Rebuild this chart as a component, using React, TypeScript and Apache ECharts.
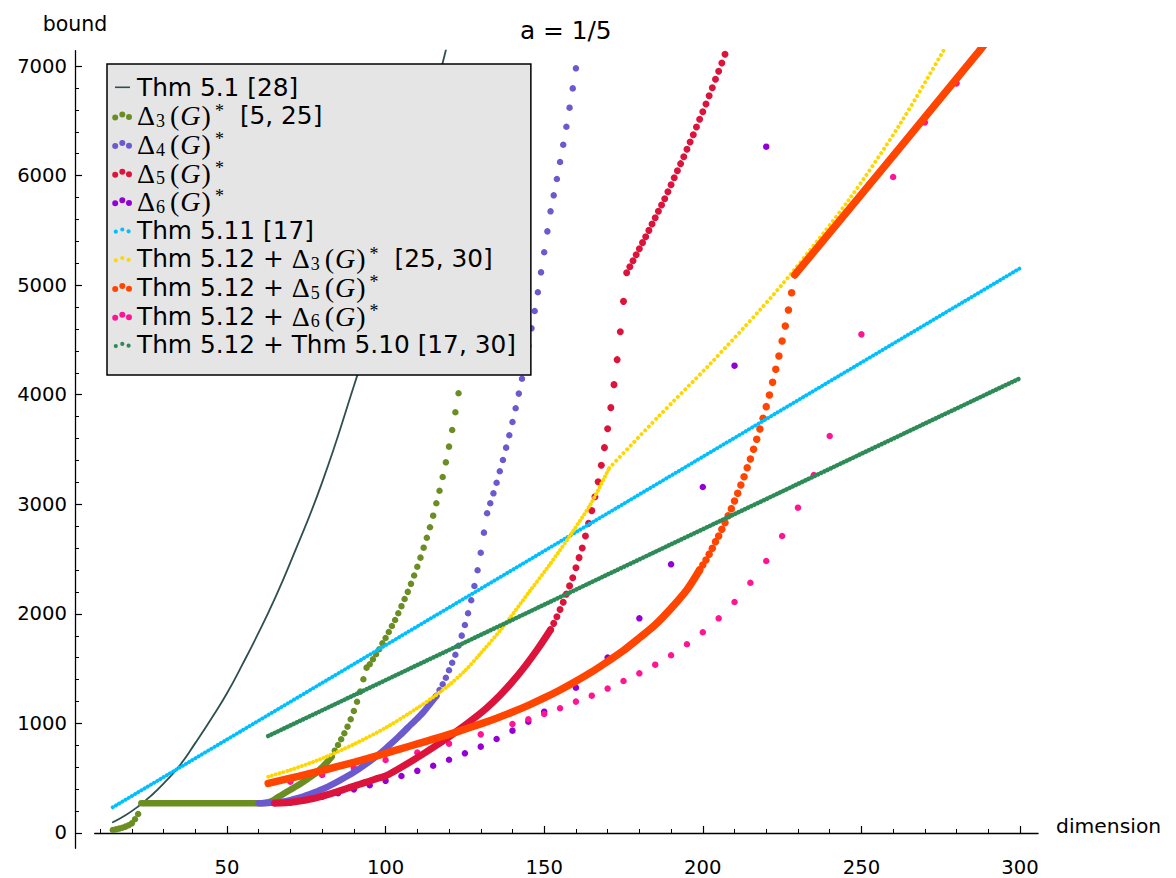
import React, { useEffect, useRef } from "react";
import * as echarts from "echarts";

// ---- axis ticks ----
const xMajorTicks = [50, 100, 150, 200, 250, 300];
const xMinorTicks = [10, 20, 30, 40, 50, 60, 70, 80, 90, 100, 110, 120, 130, 140, 150, 160, 170, 180, 190, 200, 210, 220, 230, 240, 250, 260, 270, 280, 290, 300];
const yMajorTicks = [0, 1000, 2000, 3000, 4000, 5000, 6000, 7000];
const yMinorTicks = [0, 200, 400, 600, 800, 1000, 1200, 1400, 1600, 1800, 2000, 2200, 2400, 2600, 2800, 3000, 3200, 3400, 3600, 3800, 4000, 4200, 4400, 4600, 4800, 5000, 5200, 5400, 5600, 5800, 6000, 6200, 6400, 6600, 6800, 7000];

// ---- series names ----
const N1 = "Thm 5.1 [28]";
const N2 = "Δ3(G)* [5, 25]";
const N3 = "Δ4(G)*";
const N4 = "Δ5(G)*";
const N5 = "Δ6(G)*";
const N6 = "Thm 5.11 [17]";
const N7 = "Thm 5.12 + Δ3(G)* [25, 30]";
const N8 = "Thm 5.12 + Δ5(G)*";
const N9 = "Thm 5.12 + Δ6(G)*";
const N10 = "Thm 5.12 + Thm 5.10 [17, 30]";

// ---- Thm 5.1 ----
const thm51X = [14, 18, 22, 26, 30, 35, 40, 45, 50, 55, 60, 65, 70, 80, 90, 100, 110, 118, 120];
const thm51Y = [98, 162, 242, 338, 450, 612, 820, 1040, 1275, 1545, 1830, 2135, 2470, 3200, 4080, 5000, 6080, 7030, 7260];

// ---- Delta3 ----
const d3LowX = [14, 15, 16, 17, 18, 19, 20, 21, 22];
const d3LowY = [27, 33, 40, 48, 58, 70, 88, 125, 173];
const d3BandX = [23, 60, 62, 64, 66, 68, 70, 72, 74, 76, 78, 80, 82, 83];
const d3BandY = [271, 271, 276, 290, 325, 360, 395, 428, 465, 505, 545, 600, 660, 697];
const d3DotX = [83, 84, 85, 86, 87, 88, 89, 90, 91, 92, 93, 94, 95, 96, 97, 98, 99, 100, 101, 102, 103, 104, 105, 106, 107, 108, 109, 110, 111, 112, 113, 114, 115, 116, 117, 118, 119, 120, 121, 122, 123];
const d3DotY = [697, 751, 803, 855, 910, 970, 1038, 1113, 1198, 1290, 1403, 1509, 1540, 1585, 1631, 1677, 1731, 1780, 1834, 1889, 1944, 2005, 2070, 2135, 2201, 2274, 2350, 2430, 2513, 2604, 2695, 2790, 2896, 3009, 3124, 3249, 3383, 3526, 3678, 3840, 4013];

// ---- Delta4 ----
const d4BandX = [60, 62, 64, 66, 68, 70, 72, 74, 76, 78, 80, 82, 84, 86, 88, 90, 92, 94, 96, 98, 100, 102, 104, 106, 108, 110, 112, 114, 116];
const d4BandY = [271, 272, 275, 280, 288, 300, 315, 333, 353, 375, 398, 425, 455, 487, 520, 555, 592, 632, 675, 720, 770, 822, 876, 932, 990, 1045, 1105, 1178, 1250];
const d4DotX = [116, 117, 118, 119, 120, 121, 122, 123, 124, 125, 126, 127, 128, 129, 130, 131, 132, 133, 134, 135, 136, 137, 138, 139, 140, 141, 142, 143, 144, 145, 146, 147, 148, 149, 150, 151, 152, 153, 154, 155, 156, 157, 158, 159, 160];
const d4DotY = [1250, 1305, 1357, 1417, 1485, 1554, 1627, 1709, 1801, 1898, 2005, 2124, 2254, 2398, 2558, 2741, 2918, 3009, 3100, 3197, 3301, 3404, 3517, 3630, 3751, 3876, 4010, 4146, 4290, 4445, 4606, 4764, 4935, 5117, 5300, 5491, 5674, 5820, 5969, 6124, 6282, 6446, 6620, 6796, 6979];

// ---- Delta5 ----
const d5BandX = [65, 67, 70, 73, 76, 79, 82, 85, 88, 91, 94, 97, 100, 104, 108, 112, 116, 120, 124, 128, 132, 136, 140, 144, 148, 152];
const d5BandY = [271, 273, 280, 292, 308, 328, 352, 380, 408, 437, 464, 493, 520, 584, 652, 724, 799, 878, 961, 1049, 1145, 1255, 1381, 1523, 1681, 1855];
const d5DotX = [152, 153, 154, 155, 156, 157, 158, 159, 160, 161, 162, 163, 164, 165, 166, 167, 168, 169, 170, 171, 172, 173, 174, 175, 176, 177, 178, 179, 180, 181, 182, 183, 184, 185, 186, 187, 188, 189, 190, 191, 192, 193, 194, 195, 196, 197, 198, 199, 200, 201, 202, 203, 204, 205, 206, 207];
const d5DotY = [1855, 1913, 1974, 2040, 2105, 2180, 2255, 2330, 2421, 2513, 2601, 2711, 2826, 2942, 3069, 3206, 3356, 3517, 3690, 3882, 4092, 4320, 4575, 4852, 5114, 5168, 5223, 5278, 5333, 5388, 5442, 5500, 5558, 5616, 5674, 5731, 5789, 5853, 5917, 5981, 6045, 6109, 6172, 6240, 6306, 6373, 6443, 6514, 6583, 6653, 6729, 6802, 6879, 6952, 7028, 7107];

// ---- Delta6 ----
const d6X = [70, 75, 80, 85, 90, 95, 100, 105, 110, 115, 120, 125, 130, 135, 140, 145, 150, 160, 170, 180, 190, 200, 210, 220];
const d6Y = [277, 301, 331, 362, 398, 435, 476, 520, 567, 614, 668, 727, 788, 858, 934, 1016, 1107, 1326, 1602, 1959, 2452, 3158, 4265, 6264];

// ---- Thm 5.11 ----
const thm511X = [14, 300];
const thm511Y = [234, 5154];

// ---- Thm 5.12 + Delta3 (below and above the bend at 170.5) ----
const t512d3LowX = [63, 70, 80, 90, 100, 110, 115, 120, 125, 130, 137, 145, 152, 159, 165, 170.5];
const t512d3LowY = [514, 575, 680, 810, 960, 1140, 1240, 1350, 1480, 1640, 1880, 2190, 2460, 2750, 3020, 3330];
const t512d3HighX = [170.5, 186, 202, 218, 228, 246, 262, 276, 277.5];
const t512d3HighY = [3330, 3800, 4271, 4773, 5110, 5777, 6462, 7146, 7230];

// ---- Thm 5.12 + Delta5 ----
const t512d5BandX = [63, 70, 75, 80, 85, 90, 95, 100, 105, 110, 115, 120, 125, 130, 135, 140, 145, 150, 155, 160, 165, 170, 175, 180, 185, 190, 195, 199];
const t512d5BandY = [453, 500, 535, 570, 607, 645, 685, 727, 770, 813, 856, 900, 947, 996, 1048, 1104, 1165, 1232, 1305, 1385, 1470, 1565, 1665, 1780, 1900, 2050, 2220, 2400];
const t512d5DotX = [199, 200, 201, 202, 203, 204, 205, 206, 207, 208, 209, 210, 211, 212, 213, 214, 215, 216, 217, 218, 219, 220, 221, 222, 223, 224, 225, 226, 227, 228];
const t512d5DotY = [2400, 2445, 2492, 2545, 2598, 2659, 2711, 2772, 2832, 2896, 2960, 3030, 3100, 3176, 3252, 3334, 3413, 3502, 3593, 3687, 3785, 3891, 3997, 4113, 4232, 4353, 4490, 4627, 4773, 4931];
const t512d5TopX = [229, 258, 287, 289];
const t512d5TopY = [5093, 6110, 7131, 7205];

// ---- Thm 5.12 + Delta6 ----
const t512d6X = [70, 80, 90, 100, 110, 120, 130, 140, 145, 150, 155, 160, 165, 170, 175, 180, 185, 190, 195, 200, 205, 210, 215, 220, 225, 230, 235, 240, 250, 260, 270, 280];
const t512d6Y = [468, 529, 593, 666, 734, 815, 900, 995, 1038, 1086, 1138, 1199, 1253, 1318, 1387, 1457, 1536, 1622, 1722, 1832, 1959, 2108, 2284, 2482, 2711, 2969, 3267, 3623, 4551, 5987, 6486, 6842];

// ---- Thm 5.12 + Thm 5.10 ----
const t512t510X = [63, 300];
const t512t510Y = [885, 4150];

const C = {
  slate: "#2f4f4f",
  olive: "#6b8e23",
  slateblue: "#6a5acd",
  crimson: "#dc143c",
  violet: "#9400d3",
  sky: "#00bfff",
  gold: "#ffd700",
  orange: "#ff4500",
  pink: "#ff1493",
  green: "#2e8b57",
};

const SANS = "'DejaVu Sans', 'Bitstream Vera Sans', sans-serif";
const SERIF = "'Liberation Serif', 'DejaVu Serif', serif";

const pts = (xs: number[], ys: number[]) => xs.map((x, i) => [x, ys[i]]);

const scatter = (name: string, xs: number[], ys: number[], color: string, size: number) => ({
  name,
  type: "scatter",
  data: pts(xs, ys),
  symbol: "circle",
  symbolSize: size,
  itemStyle: { color, opacity: 1, borderWidth: 0 },
  emphasis: { disabled: true },
  silent: true,
});

const band = (name: string, xs: number[], ys: number[], color: string, width: number, smooth: number | boolean = 0.3) => ({
  name,
  type: "line",
  data: pts(xs, ys),
  symbol: "none",
  smooth,
  color,
  lineStyle: { color, width, cap: "round", join: "round" },
  emphasis: { disabled: true },
  silent: true,
});

const dotted = (name: string, xs: number[], ys: number[], color: string, width: number, step: number, smooth: number | boolean = false) => ({
  name,
  type: "line",
  data: pts(xs, ys),
  symbol: "none",
  smooth,
  color,
  lineStyle: { color, width, type: [0.01, step], cap: "round", join: "round" },
  emphasis: { disabled: true },
  silent: true,
});

const deltaTerm = (k: string) => `{m|Δ}{sub|${k}}{m|(}{it|G}{m|)}{sup|*}`;
const legendLabels: Record<string, string> = {
  [N1]: "Thm 5.1 [28]",
  [N2]: deltaTerm("3") + "{gap|[5, 25]}",
  [N3]: deltaTerm("4"),
  [N4]: deltaTerm("5"),
  [N5]: deltaTerm("6"),
  [N6]: "Thm 5.11 [17]",
  [N7]: "Thm 5.12 + " + deltaTerm("3") + "{gap|[25, 30]}",
  [N8]: "Thm 5.12 + " + deltaTerm("5"),
  [N9]: "Thm 5.12 + " + deltaTerm("6"),
  [N10]: "Thm 5.12 + Thm 5.10 [17, 30]",
};

const BOX = "M0,0M20,10";
const ICON_LINE = "path://" + BOX + "M3,4.2L18,4.2L18,5.8L3,5.8Z";
const circ = (cx: number, cy: number, r: number) =>
  `M${cx - r},${cy}a${r},${r} 0 1,0 ${2 * r},0a${r},${r} 0 1,0 ${-2 * r},0Z`;
const ICON_BIG = "path://" + BOX + circ(3.2, 6.6, 3) + circ(10.3, 3.6, 3) + circ(17, 6.2, 3);
const ICON_SMALL = "path://" + BOX + circ(3.8, 6.4, 2.1) + circ(10.3, 4.2, 2.1) + circ(16.6, 6.0, 2.1);

const legendItems = [
  { name: N1, icon: ICON_LINE, itemStyle: { color: C.slate, borderWidth: 0 } },
  { name: N2, icon: ICON_BIG, itemStyle: { color: C.olive, borderWidth: 0 } },
  { name: N3, icon: ICON_BIG, itemStyle: { color: C.slateblue, borderWidth: 0 } },
  { name: N4, icon: ICON_BIG, itemStyle: { color: C.crimson, borderWidth: 0 } },
  { name: N5, icon: ICON_BIG, itemStyle: { color: C.violet, borderWidth: 0 } },
  { name: N6, icon: ICON_SMALL, itemStyle: { color: C.sky, borderWidth: 0 } },
  { name: N7, icon: ICON_SMALL, itemStyle: { color: C.gold, borderWidth: 0 } },
  { name: N8, icon: ICON_BIG, itemStyle: { color: C.orange, borderWidth: 0 } },
  { name: N9, icon: ICON_BIG, itemStyle: { color: C.pink, borderWidth: 0 } },
  { name: N10, icon: ICON_SMALL, itemStyle: { color: C.green, borderWidth: 0 } },
];

const X_MIN = 8.3;
const X_MAX = 305.7;
const Y_MIN = -140;
const Y_MAX = 7140;

const axisColor = "#000";
const plain = (v: number) => String(v);

const option: any = {
  animation: false,
  backgroundColor: "#ffffff",
  title: {
    text: "a = 1/5",
    left: 520,
    top: 18,
    padding: 0,
    textStyle: { fontFamily: SANS, fontSize: 24.8, fontWeight: "normal", color: "#000" },
  },
  grid: { left: 94.7, top: 50.7, width: 943.4, height: 797.6, containLabel: false, outerBoundsMode: "none" },
  xAxis: [
    {
      type: "value",
      min: X_MIN,
      max: X_MAX,
      position: "bottom",
      name: "dimension",
      nameLocation: "end",
      nameGap: 18,
      nameTextStyle: { fontFamily: SANS, fontSize: 20.3, color: "#000", verticalAlign: "bottom", lineHeight: 14 },
      axisLine: { show: true, onZero: true, lineStyle: { color: axisColor, width: 1.3 } },
      axisTick: { show: true, inside: true, length: 7, customValues: xMajorTicks, lineStyle: { color: axisColor, width: 1.2 } },
      axisLabel: { show: true, customValues: xMajorTicks, formatter: plain, fontFamily: SANS, fontSize: 19.6, color: "#000", margin: 9 },
      splitLine: { show: false },
    },
    {
      type: "value",
      min: X_MIN,
      max: X_MAX,
      position: "bottom",
      axisLine: { show: false, onZero: true },
      axisTick: { show: true, inside: true, length: 4, customValues: xMinorTicks, lineStyle: { color: axisColor, width: 1 } },
      axisLabel: { show: false },
      splitLine: { show: false },
    },
  ],
  yAxis: [
    {
      type: "value",
      min: Y_MIN,
      max: Y_MAX,
      position: "left",
      offset: 19.7,
      name: "bound",
      nameLocation: "end",
      nameGap: 16,
      nameTextStyle: { fontFamily: SANS, fontSize: 20.5, color: "#000" },
      axisLine: { show: true, onZero: false, lineStyle: { color: axisColor, width: 1.3 } },
      axisTick: { show: true, inside: true, length: 7, customValues: yMajorTicks, lineStyle: { color: axisColor, width: 1.2 } },
      axisLabel: { show: true, customValues: yMajorTicks, formatter: plain, fontFamily: SANS, fontSize: 19.6, color: "#000", margin: 8 },
      splitLine: { show: false },
    },
    {
      type: "value",
      min: Y_MIN,
      max: Y_MAX,
      position: "left",
      offset: 19.7,
      axisLine: { show: false, onZero: false },
      axisTick: { show: true, inside: true, length: 4, customValues: yMinorTicks, lineStyle: { color: axisColor, width: 1 } },
      axisLabel: { show: false },
      splitLine: { show: false },
    },
  ],
  legend: {
    show: true,
    orient: "vertical",
    left: 107,
    top: 64,
    align: "left",
    padding: [9, 15, 16, 5],
    itemGap: 0,
    itemWidth: 20,
    itemHeight: 10,
    backgroundColor: "#e5e5e5",
    borderColor: "#000",
    borderWidth: 1.5,
    borderRadius: 0,
    selectedMode: false,
    data: legendItems,
    formatter: (name: string) => legendLabels[name] ?? name,
    textStyle: {
      fontFamily: SANS,
      fontSize: 24.8,
      color: "#000",
      lineHeight: 28.6,
      rich: {
        m: { fontFamily: SERIF, fontSize: 28, color: "#000", lineHeight: 28.6 },
        it: { fontFamily: SERIF, fontSize: 28, fontStyle: "italic", color: "#000", lineHeight: 28.6, padding: [0, 1, 0, 1] },
        sub: { fontFamily: SERIF, fontSize: 18, color: "#000", lineHeight: 12, verticalAlign: "bottom", padding: [0, 5, 0, 1] },
        sup: { fontFamily: SERIF, fontSize: 18, color: "#000", lineHeight: 12, verticalAlign: "top", padding: [0, 0, 0, 4] },
        gap: { fontFamily: SANS, fontSize: 24.8, color: "#000", lineHeight: 28.6, padding: [0, 0, 0, 16] },
      },
    },
  },
  series: [
    band(N1, thm51X, thm51Y, C.slate, 1.8, true),
    scatter(N2, d3LowX, d3LowY, C.olive, 6.5),
    band(N2, d3BandX, d3BandY, C.olive, 6.5),
    scatter(N2, d3DotX, d3DotY, C.olive, 6.5),
    band(N3, d4BandX, d4BandY, C.slateblue, 6.5),
    scatter(N3, d4DotX, d4DotY, C.slateblue, 6.5),
    band(N4, d5BandX, d5BandY, C.crimson, 7),
    scatter(N4, d5DotX, d5DotY, C.crimson, 7),
    scatter(N5, d6X, d6Y, C.violet, 6.5),
    dotted(N6, thm511X, thm511Y, C.sky, 4, 3.69),
    dotted(N7, t512d3LowX, t512d3LowY, C.gold, 4, 3.9, 0.3),
    dotted(N7, t512d3HighX, t512d3HighY, C.gold, 4, 5.2, 0.3),
    band(N8, t512d5BandX, t512d5BandY, C.orange, 7.5),
    scatter(N8, t512d5DotX, t512d5DotY, C.orange, 7.5),
    band(N8, t512d5TopX, t512d5TopY, C.orange, 7.5, false),
    scatter(N9, t512d6X, t512d6Y, C.pink, 6.5),
    dotted(N10, t512t510X, t512t510Y, C.green, 4.6, 3.51),
  ],
};

export default function App() {
  const ref = useRef<HTMLDivElement>(null);
  useEffect(() => {
    if (!ref.current) return;
    const chart = echarts.init(ref.current, undefined, { renderer: "svg" });
    chart.setOption(option);
    return () => chart.dispose();
  }, []);
  return (
    <div
      ref={ref}
      style={{ position: "fixed", left: 0, top: 0, width: 1176, height: 878, background: "#ffffff" }}
    />
  );
}
